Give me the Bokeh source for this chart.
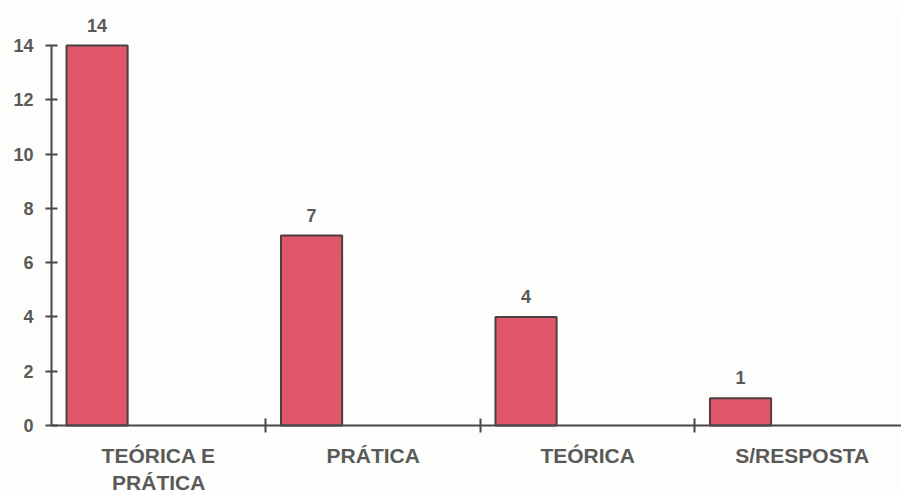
from bokeh.plotting import figure
from bokeh.models import ColumnDataSource, FixedTicker, Range1d
from bokeh.core.properties import value
from bokeh.embed import file_html
from bokeh.resources import INLINE

categories = ["TEÓRICA E\nPRÁTICA", "PRÁTICA", "TEÓRICA", "S/RESPOSTA"]
counts = [14, 7, 4, 1]
y_ticks = [0, 2, 4, 6, 8, 10, 12, 14]

idx = list(range(len(categories)))
bar_x = [i + 0.2125 for i in idx]
src = ColumnDataSource(dict(x=bar_x, top=counts, label=[str(c) for c in counts]))

FONT = "Liberation Sans"
TXT = "#595959"
AX = "#474747"

# frame spans y=10..491 px; value 0 sits at 425 px, 14 at 45 px
px_per_unit = (425 - 45) / 14.0
y_lo = -(491 - 425) / px_per_unit
y_hi = 14 + (45 - 10) / px_per_unit

p = figure(width=901, height=491, output_backend="svg", toolbar_location=None,
           x_range=Range1d(0, 3.963), y_range=Range1d(y_lo, y_hi),
           min_border_left=51, min_border_right=0, min_border_top=10,
           min_border_bottom=0, background_fill_color="#fdfdfb",
           border_fill_color="#fdfdfb")
p.outline_line_color = None
p.grid.visible = False

p.vbar(x="x", top="top", width=0.285, bottom=0, source=src,
       fill_color="#e0566b", line_color="#4a4040", line_width=2)
p.text(x="x", y="top", text="label", source=src, text_align="center",
       text_baseline="bottom", y_offset=-14, text_font=value(FONT),
       text_font_style="bold", text_font_size="18px", text_color=TXT)

# y axis
ya = p.yaxis[0]
ya.ticker = FixedTicker(ticks=y_ticks)
ya.bounds = (0, 14)
ya.axis_line_color = AX
ya.axis_line_width = 2
ya.major_tick_line_color = AX
ya.major_tick_line_width = 2
ya.major_tick_in = 6
ya.major_tick_out = 6
ya.minor_tick_line_color = None
ya.major_label_standoff = 12
ya.major_label_text_font = FONT
ya.major_label_text_font_style = "bold"
ya.major_label_text_font_size = "18px"
ya.major_label_text_color = TXT

# x axis fixed at y = 0
xa = p.xaxis[0]
xa.fixed_location = 0
centers = [i + 0.5 for i in idx]
xa.ticker = FixedTicker(ticks=centers, minor_ticks=[i for i in idx[1:]])
xa.major_label_overrides = {c: lab for c, lab in zip(centers, categories)}
xa.axis_line_color = AX
xa.axis_line_width = 2
xa.major_tick_line_color = None
xa.major_tick_out = 7
xa.major_tick_in = 0
xa.minor_tick_line_color = AX
xa.minor_tick_line_width = 2
xa.minor_tick_in = 7
xa.minor_tick_out = 7
xa.major_label_standoff = 11
xa.major_label_text_font = FONT
xa.major_label_text_font_style = "bold"
xa.major_label_text_font_size = "21px"
xa.major_label_text_color = TXT
xa.major_label_text_line_height = 1.2

open("out.html", "w").write(file_html(p, INLINE))
